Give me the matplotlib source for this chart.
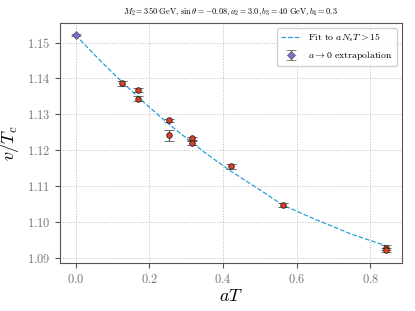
import matplotlib
matplotlib.use("Agg")
import matplotlib.pyplot as plt

plt.rcParams['font.family'] = 'serif'
plt.rcParams['font.serif'] = ['cmr10']
plt.rcParams['mathtext.fontset'] = 'cm'
plt.rcParams['axes.formatter.use_mathtext'] = True

# lattice points
aT = [0.127, 0.168, 0.168, 0.254, 0.254, 0.3165, 0.3165, 0.4226, 0.563, 0.8435, 0.8435]
vT = [1.1386, 1.1367, 1.1344, 1.1283, 1.1242, 1.1233, 1.1220, 1.1155, 1.1047, 1.0929, 1.0923]
err = [0.0006, 0.0006, 0.0006, 0.0005, 0.0015, 0.0005, 0.0006, 0.0006, 0.0006, 0.0006, 0.0006]

# a -> 0 extrapolation
ext_x = [0.0]
ext_y = [1.1521]
ext_err = [0.0003]

# fit curve
fit_x = [0.0, 0.05, 0.1, 0.127, 0.168, 0.2, 0.254, 0.3165, 0.35, 0.4226, 0.5, 0.563, 0.65, 0.75, 0.8435]
fit_y = [1.1521, 1.1467, 1.1416, 1.1389, 1.1350, 1.1320, 1.1272, 1.1221, 1.1194, 1.1141,
         1.1090, 1.1047, 1.1008, 1.0966, 1.0934]

fig = plt.figure(figsize=(4.15, 3.11), dpi=100)
ax = fig.add_axes([0.145, 0.155, 0.823, 0.771])

ax.plot(fit_x, fit_y, '--', color='#2a9fd6', lw=0.9, label=r'Fit to $aN_sT > 15$', zorder=2)
ax.errorbar(aT, vT, yerr=err, fmt='o', ms=4, mfc='#e0401f', mec='#222222', mew=0.6,
            ecolor='#555555', elinewidth=0.9, capsize=3.5, capthick=0.9, zorder=3)
ax.errorbar(ext_x, ext_y, yerr=ext_err, fmt='D', ms=4, mfc='#7b6fd0', mec='#555555', mew=0.5,
            ecolor='#555555', elinewidth=0.9, capsize=3.5, capthick=0.9, zorder=3,
            label=r'$a \to 0$ extrapolation')

ax.set_yticks([1.09, 1.10, 1.11, 1.12, 1.13, 1.14, 1.15])
ax.set_xticks([0.0, 0.2, 0.4, 0.6, 0.8])
ax.grid(True, ls=':', color='#bbbbbb', lw=0.7)
ax.tick_params(colors='#555555', labelcolor='#777777', labelsize=9)
for s in ax.spines.values():
    s.set_color('#555555')

ax.set_xlabel(r'$aT$', fontsize=13, labelpad=2)
ax.set_ylabel(r'$v/T_c$', fontsize=13, labelpad=4)
ax.set_title(r'$M_2 = 350\ \mathrm{GeV},\, \sin\theta = -0.08, a_2 = 3.0, b_3 = 40\ \mathrm{GeV}, b_4 = 0.3$',
             fontsize=6)
ax.legend(loc='upper right', fontsize=7, framealpha=0.9)

fig.savefig('out.png', dpi=100)
